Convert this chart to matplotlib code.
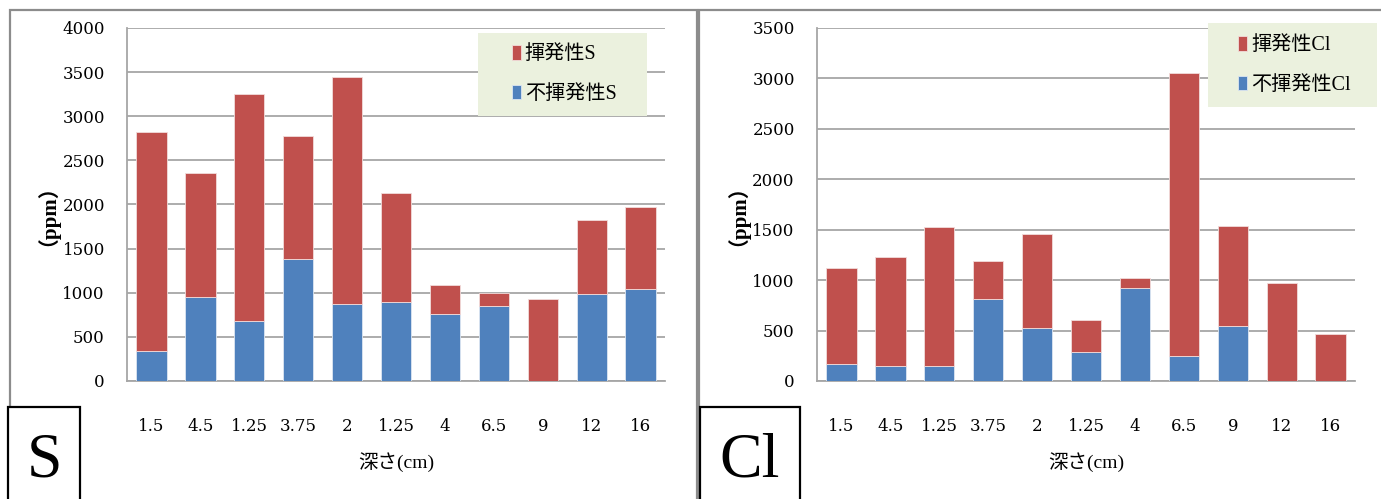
import matplotlib
matplotlib.use("Agg")
import matplotlib.pyplot as plt
import numpy as np
from matplotlib.patches import Rectangle

# depth labels (cm), shared by both panels
depths = ["1.5", "4.5", "1.25", "3.75", "2", "1.25", "4", "6.5", "9", "12", "16"]

# sulfur (ppm)
s_nonvolatile = [340, 953, 677, 1380, 877, 892, 756, 854, 0, 991, 1040]
s_total = [2817, 2352, 3252, 2779, 3441, 2129, 1093, 994, 926, 1819, 1977]

# chlorine (ppm)
cl_nonvolatile = [169, 146, 152, 810, 526, 288, 923, 245, 549, 0, 0]
cl_total = [1118, 1227, 1522, 1194, 1456, 605, 1019, 3053, 1535, 976, 463]

RED = "#C0504D"
BLUE = "#4F81BD"
GRID = "#A6A6A6"
LEGEND_BG = "#EBF1DE"
SERIF = ["DejaVu Serif"]
MIXED = ["Liberation Serif", "Noto Sans CJK JP", "DejaVu Sans"]

fig = plt.figure(figsize=(13.81, 4.99), dpi=100)


def panel(rect, nonvol, total, ymax, element, leg_center, leg_box):
    ax = fig.add_axes(rect)
    x = np.arange(len(depths))
    nonvol = np.array(nonvol)
    vol = np.array(total) - nonvol
    ax.bar(x, nonvol, width=0.62, color=BLUE, edgecolor="#DCE6F2", linewidth=0.6,
           label="不揮発性" + element, zorder=3)
    ax.bar(x, vol, bottom=nonvol, width=0.62, color=RED, edgecolor="#F2DCDB",
           linewidth=0.6, label="揮発性" + element, zorder=3)
    ax.set_xlim(-0.5, len(depths) - 0.5)
    ax.set_ylim(0, ymax)
    ax.set_yticks(np.arange(0, ymax + 1, 500))
    ax.yaxis.grid(True, color=GRID, linewidth=1.3, zorder=0)
    ax.set_axisbelow(True)
    for side in ["top", "right"]:
        ax.spines[side].set_visible(False)
    for side in ["left", "bottom"]:
        ax.spines[side].set_color(GRID)
        ax.spines[side].set_linewidth(1.3)
    ax.set_xticks(x)
    ax.set_xticklabels(depths)
    ax.tick_params(axis="both", length=0, labelsize=12)
    ax.tick_params(axis="x", pad=27)
    ax.tick_params(axis="y", pad=16)
    for lbl in ax.get_xticklabels() + ax.get_yticklabels():
        lbl.set_family(SERIF)
    ax.set_xlabel("深さ(cm)", family=MIXED, fontsize=14, labelpad=12)
    ax.set_ylabel("（ppm）", family=MIXED, fontsize=15, fontweight="bold",
                  labelpad=10)

    # legend sits on its own shaded panel drawn at figure level
    fig.patches.append(Rectangle(leg_box[:2], leg_box[2], leg_box[3],
                                 transform=fig.transFigure, facecolor=LEGEND_BG,
                                 edgecolor="none", zorder=1))
    handles, labels = ax.get_legend_handles_labels()
    fig.legend(handles[::-1], labels[::-1], loc="center", bbox_to_anchor=leg_center,
               bbox_transform=fig.transFigure, prop={"family": MIXED, "size": 14.5},
               frameon=False, handlelength=0.45, handleheight=0.75,
               handletextpad=0.2, labelspacing=1.0, borderpad=0)
    return ax


panel([0.092, 0.2365, 0.3896, 0.7074], s_nonvolatile, s_total, 4000, "S",
      (0.4084, 0.8507), (0.3461, 0.7675, 0.1224, 0.1663))
panel([0.5916, 0.2365, 0.3896, 0.7074], cl_nonvolatile, cl_total, 3500, "Cl",
      (0.9374, 0.8687), (0.8747, 0.7856, 0.1224, 0.1683))

# gray frames around each chart
for x0, x1 in [(0.007, 0.505), (0.506, 1.05)]:
    fig.patches.append(Rectangle((x0, -0.1), x1 - x0, 1.08, transform=fig.transFigure,
                                 fill=False, edgecolor="#8C8C8C", linewidth=1.6))

# element tags in the lower-left corners
for x0, w, tag in [(0.006, 0.052, "S"), (0.507, 0.072, "Cl")]:
    fig.patches.append(Rectangle((x0, -0.05), w, 0.235, transform=fig.transFigure,
                                 fill=True, facecolor="white", edgecolor="black",
                                 linewidth=1.6, zorder=5))
    fig.text(x0 + w / 2, 0.075, tag, ha="center", va="center",
             family=["Liberation Serif"], fontsize=46, zorder=6)

fig.savefig("out.png", dpi=100)
